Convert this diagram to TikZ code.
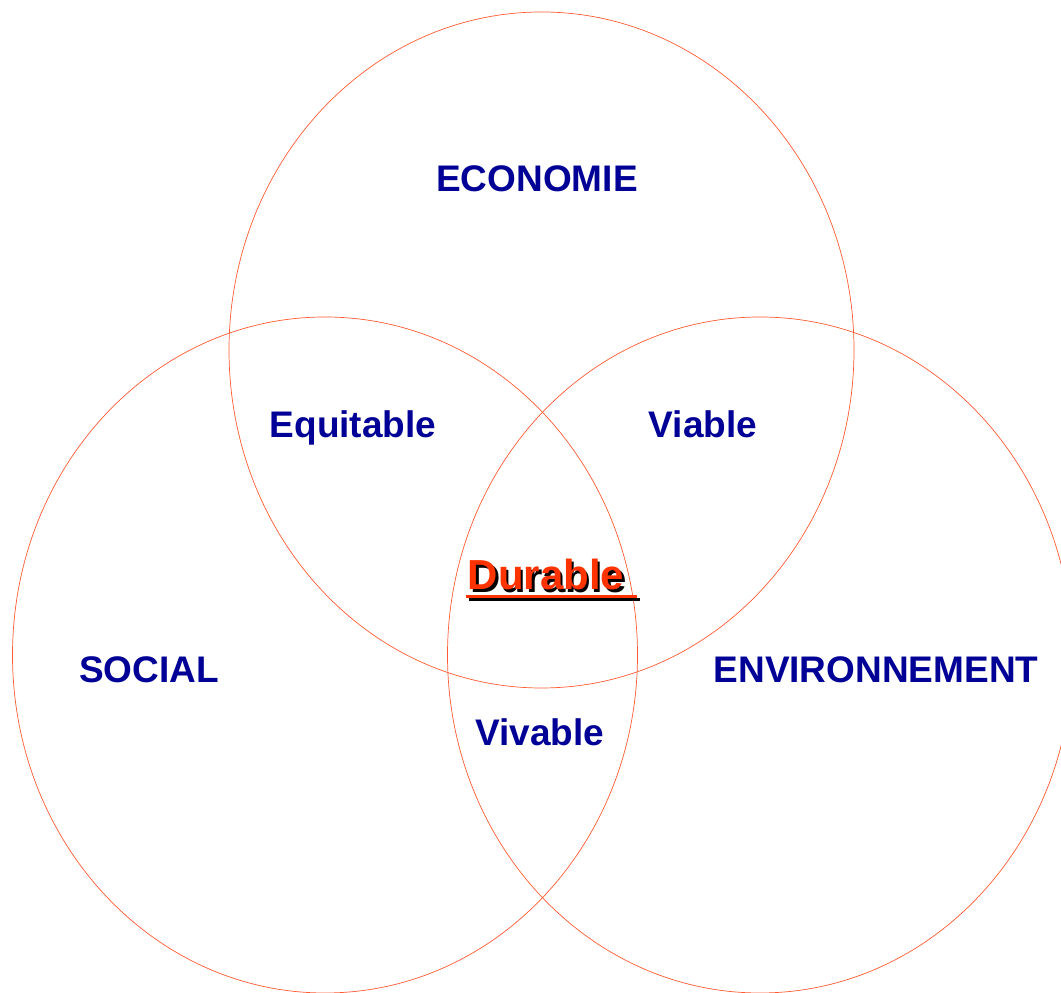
\documentclass[tikz,border=0pt]{standalone}
\usepackage{fontspec}
\setmainfont{Liberation Sans}
\usepackage{tikz}
\definecolor{ringred}{RGB}{255,90,50}
\definecolor{navyblue}{RGB}{0,0,150}
\definecolor{durred}{RGB}{255,51,0}

\begin{document}
\begin{tikzpicture}
	[x=1pt,y=1pt,every node/.style={inner sep=0pt, anchor=base}]
	\tikzstyle{ring} = [draw=ringred, line width=0.7pt];
	\tikzstyle{pillar} = [text=navyblue, font=\bfseries\fontsize{37}{40}\selectfont];
	\tikzstyle{goal} = [font=\bfseries\fontsize{42}{45}\selectfont];
	
	\useasboundingbox (0,0) rectangle (1061,993);
	\clip (0,0) rectangle (1061,993);
	
	\coordinate (eco) at (541.5,643);
	\coordinate (soc) at (325,338);
	\coordinate (env) at (760,338);
	
	\draw[ring] (eco) ellipse [x radius=312.5, y radius=338];
	\draw[ring] (soc) ellipse [x radius=312.5, y radius=338];
	\draw[ring] (env) ellipse [x radius=312.5, y radius=338];
	
	\node[pillar] (economie) at (537,801) {ECONOMIE};
	\node[pillar] (equitable) at (353,555) {Equitable};
	\node[pillar] (viable) at (703,555) {Viable};
	\node[pillar] (social) at (149,310) {SOCIAL};
	\node[pillar] (environnement) at (876,310) {ENVIRONNEMENT};
	\node[pillar] (vivable) at (540,247) {Vivable};
	
	% durable with its shadow
	\node[goal, text=black] (durableshadow) at (548.5,400.5) {Durable};
	\node[goal, text=durred] (durable) at (546,403) {Durable};
	\coordinate (ulstart) at (466,396);
	\coordinate (ulend) at (637,396);
	\draw[line width=3pt, black] ([shift={(2.5,-2.5)}]ulstart) -- ([shift={(2.5,-2.5)}]ulend);
	\draw[line width=3pt, durred] (ulstart) -- (ulend);
\end{tikzpicture}
\end{document}
